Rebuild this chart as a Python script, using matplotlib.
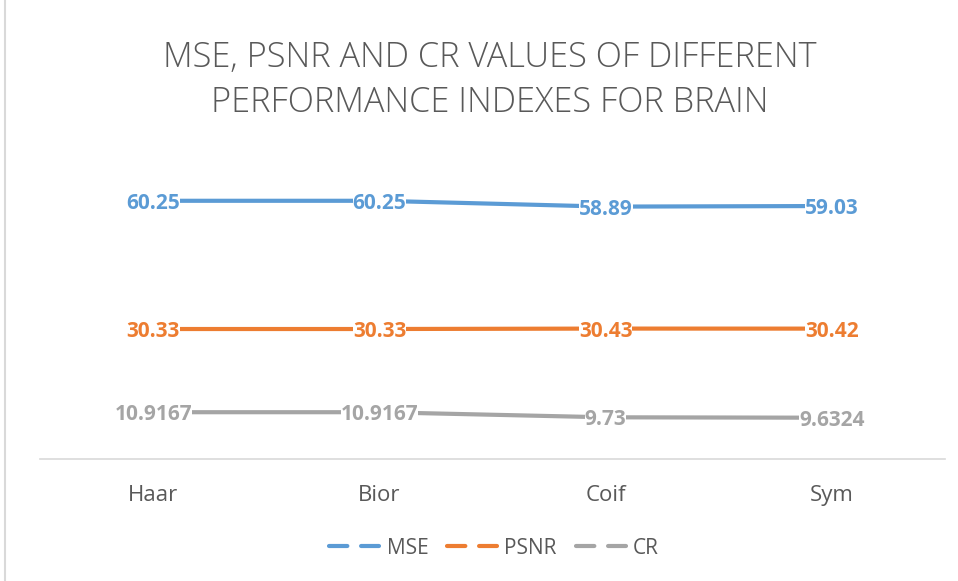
import matplotlib
matplotlib.use("Agg")
import matplotlib.pyplot as plt
from matplotlib.lines import Line2D

categories = ["Haar", "Bior", "Coif", "Sym"]
mse = [60.25, 60.25, 58.89, 59.03]
psnr = [30.33, 30.33, 30.43, 30.42]
cr = [10.9167, 10.9167, 9.73, 9.6324]
mse_labels = ["60.25", "60.25", "58.89", "59.03"]
psnr_labels = ["30.33", "30.33", "30.43", "30.42"]
cr_labels = ["10.9167", "10.9167", "9.73", "9.6324"]

colors = {"MSE": "#5B9BD5", "PSNR": "#ED7D31", "CR": "#A5A5A5"}
plt.rcParams['font.family'] = ['Open Sans', 'DejaVu Sans']

W, H = 958, 581
fig = plt.figure(figsize=(W / 100, H / 100), dpi=100)
ax = fig.add_axes([40 / W, 1 - 459 / H, 905 / W, (459 - 159) / H])

x = list(range(len(categories)))
series = [("MSE", mse, mse_labels), ("PSNR", psnr, psnr_labels), ("CR", cr, cr_labels)]
for name, vals, labs in series:
    ax.plot(x, vals, color=colors[name], lw=3.0, solid_capstyle='round', zorder=2)
    for xi, v, lab in zip(x, vals, labs):
        ax.text(xi, v, lab, ha='center', va='center_baseline', color=colors[name],
                fontsize=15, fontweight='bold', zorder=3,
                bbox=dict(boxstyle='square,pad=0.0', fc='white', ec='none'))

ax.set_xlim(-0.5, 3.5)
ax.set_ylim(0, 70)
ax.set_yticks([])
ax.set_xticks(x)
ax.set_xticklabels(categories, fontsize=16, color='#595959')
ax.tick_params(axis='x', length=0, pad=19)
for s in ['top', 'right', 'left']:
    ax.spines[s].set_visible(False)
ax.spines['bottom'].set_color('#D9D9D9')
ax.spines['bottom'].set_linewidth(1.2)

fig.text(490 / W, 1 - 80 / H, "MSE, PSNR AND CR VALUES OF DIFFERENT\nPERFORMANCE INDEXES FOR BRAIN",
         ha='center', va='center', fontsize=24.7, color='#595959', fontweight='light',
         linespacing=1.38)

handles = [Line2D([0], [0], color=colors[n], lw=3.0, ls=(0, (4.4, 3.3)), dash_capstyle='round')
           for n, _, _ in series]
fig.legend(handles, [n for n, _, _ in series], loc='center', bbox_to_anchor=(494 / W, 1 - 548 / H),
           ncol=3, frameon=False, fontsize=15, labelcolor='#595959', handlelength=2.4,
           handletextpad=0.35, columnspacing=0.9)

fig.add_artist(Line2D([5 / W, 5 / W], [0, 1], color='#D9D9D9', lw=1.5, transform=fig.transFigure))

fig.savefig("out.png", dpi=100)
